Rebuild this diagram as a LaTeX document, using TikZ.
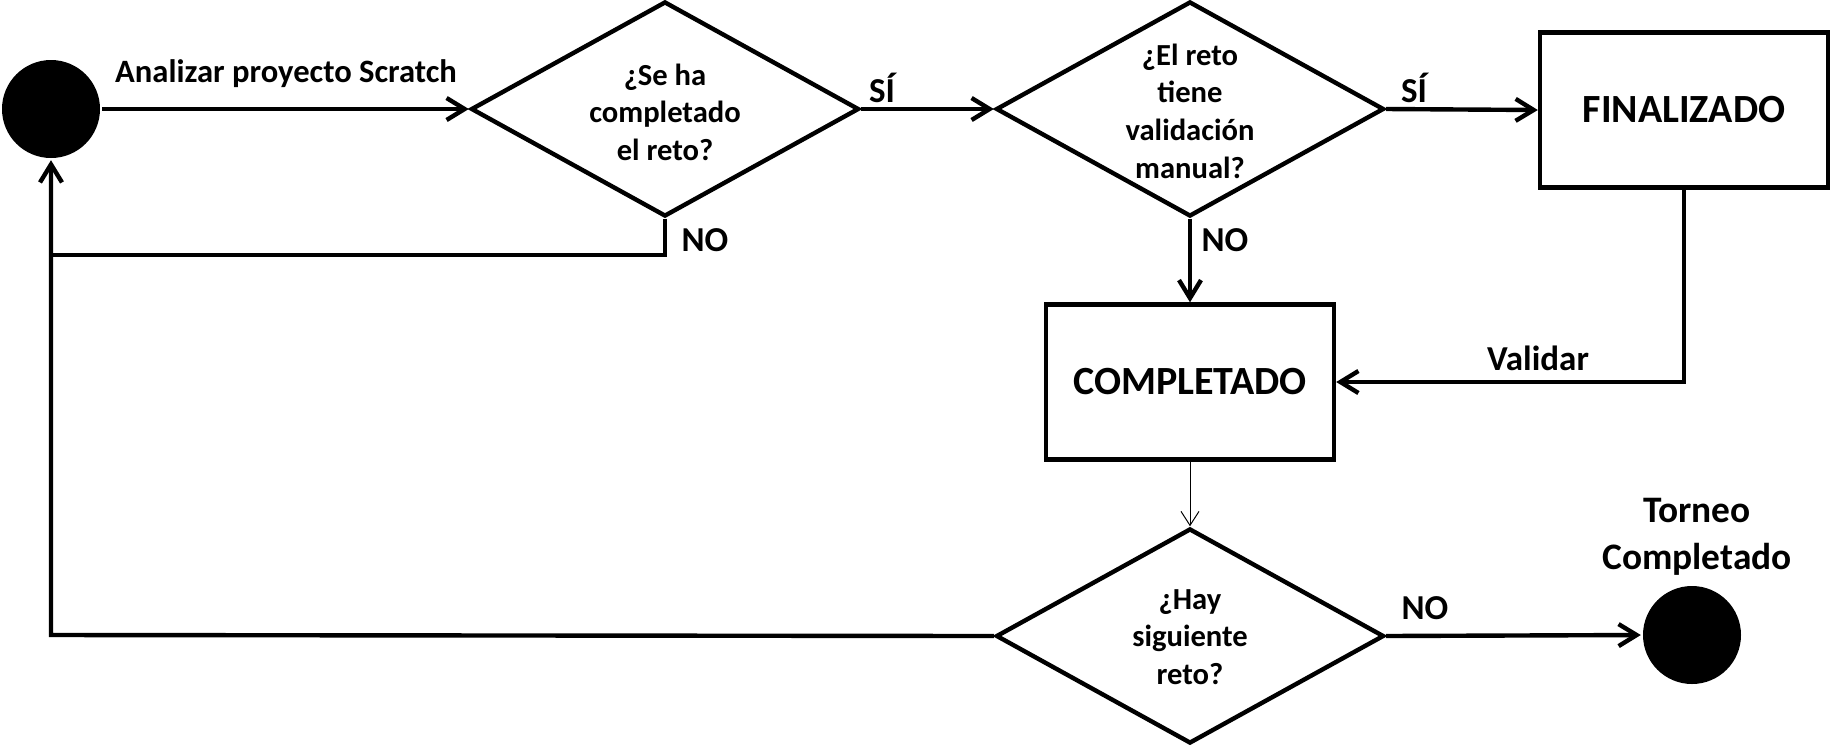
\documentclass[tikz,border=0pt]{standalone}
\usepackage{fontspec}
\setmainfont{Carlito}
\usetikzlibrary{shapes.geometric,arrows.meta}
\begin{document}
\begin{tikzpicture}[x=0.5pt,y=-0.5pt,
 line width=2.2pt,
 dia/.style={draw,diamond,minimum width=194pt,minimum height=107.5pt,inner sep=0pt},
 box/.style={draw,rectangle,minimum width=144pt,minimum height=77.5pt,inner sep=0pt,font=\fontsize{20}{24}\selectfont\bfseries},
 dot/.style={circle,fill=black,minimum size=49pt,inner sep=0pt},
 qtext/.style={align=center,inner sep=0pt,font=\fontsize{15.3}{18.8}\selectfont\bfseries},
 lbl/.style={inner sep=0pt,font=\fontsize{17.5}{21}\selectfont\bfseries},
 arr/.style={-{Straight Barb[length=9pt,width=11pt]}},
 thinarr/.style={line width=0.5pt,-{Straight Barb[length=7pt,width=9pt]}}
]
\useasboundingbox (0,0) rectangle (1832,746);

% nodes
\node[dot] (S) at (51,109) {};
\node[dia] (d1) at (665,109) {};
\node[qtext] (d1t) at (665,112) {¿Se ha\\completado\\el reto?};
\node[dia] (d2) at (1190,109) {};
\node[qtext] (d2t) at (1190,111) {¿El reto\\tiene\\validación\\manual?};
\node[box] (FIN) at (1684,110) {FINALIZADO};
\node[box] (COMP) at (1190,382) {COMPLETADO};
\node[dia] (d3) at (1190,636) {};
\node[qtext] (d3t) at (1190,637) {¿Hay\\siguiente\\reto?};
\node[dot] (E) at (1692,635) {};
\node[align=center,inner sep=0pt,font=\fontsize{18.7}{23.5}\selectfont\bfseries] (tc) at (1697,537) {Torneo\\Completado};

\coordinate (c1) at (51,255);
\coordinate (c2) at (51,635);

% connectors
\draw[arr] (S) -- (d1.west);
\draw[arr] (d1.east) -- (d2.west);
\draw[arr] (d2.east) -- (FIN.west);
\draw (d1.south) |- (c1);
\draw[arr] (d2.south) -- (COMP.north);
\draw[arr] (FIN.south) |- (COMP.east);
\draw[thinarr] (COMP.south) -- (d3.north);
\draw[arr] (d3.west) -- (c2) -- (S.south);
\draw[arr] (d3.east) -- (E.west);

% labels
\node[inner sep=0pt,font=\fontsize{16.3}{20}\selectfont\bfseries] (l1) at (286,74) {Analizar proyecto Scratch};
\node[lbl] (l2) at (882,88) {SÍ};
\node[lbl] (l3) at (1414,88) {SÍ};
\node[lbl] (l4) at (705,240) {NO};
\node[lbl] (l5) at (1225,240) {NO};
\node[lbl] (l6) at (1538,358) {Validar};
\node[lbl] (l7) at (1425,608) {NO};
\end{tikzpicture}
\end{document}
